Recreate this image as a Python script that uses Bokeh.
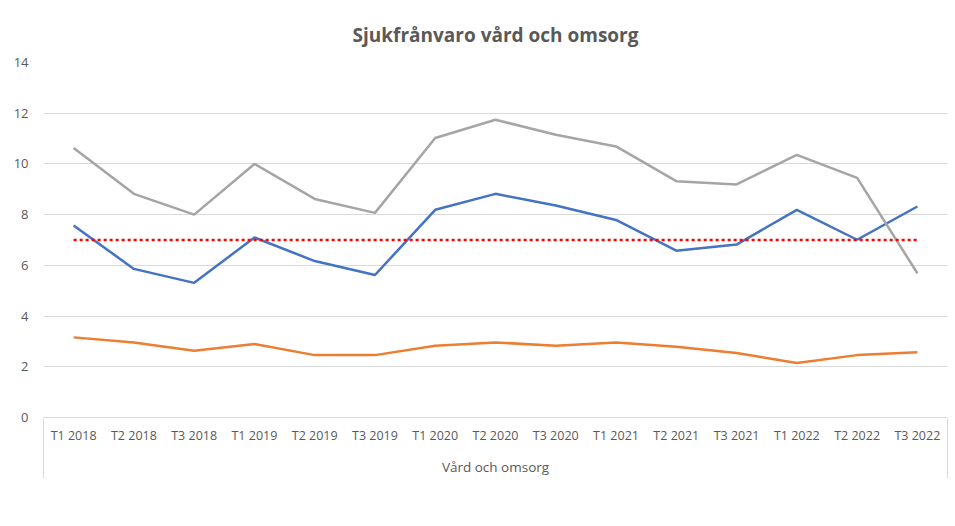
from bokeh.plotting import figure
from bokeh.models import (FactorRange, Range1d, ColumnDataSource, Legend, LegendItem,
                          LinearAxis, FixedTicker)
from bokeh.embed import file_html
from bokeh.resources import INLINE

categories = ["T1 2018", "T2 2018", "T3 2018", "T1 2019", "T2 2019", "T3 2019",
              "T1 2020", "T2 2020", "T3 2020", "T1 2021", "T2 2021", "T3 2021",
              "T1 2022", "T2 2022", "T3 2022"]
kort = [7.57, 5.86, 5.31, 7.10, 6.17, 5.62, 8.19, 8.82, 8.36, 7.79, 6.58, 6.82, 8.19, 7.01, 8.32]
lang = [3.16, 2.96, 2.63, 2.90, 2.46, 2.46, 2.83, 2.96, 2.83, 2.96, 2.79, 2.54, 2.15, 2.46, 2.57]
totalt = [10.63, 8.82, 8.00, 10.00, 8.62, 8.07, 11.02, 11.74, 11.15, 10.69, 9.32, 9.19, 10.36, 9.45, 5.69]
mal_totalt = [7.0] * 15
y_ticks = [0, 2, 4, 6, 8, 10, 12, 14]

TEXT = "#595959"
GRID = "#D9D9D9"
FONT = "Open Sans"

src = ColumnDataSource(dict(x=categories, kort=kort, lang=lang, totalt=totalt, mal=mal_totalt))

p = figure(frame_width=904, frame_height=355, x_range=FactorRange(*categories, range_padding=0),
           y_range=Range1d(0, 14), output_backend="svg", toolbar_location=None,
           min_border_left=43, min_border_right=2, min_border_top=62, min_border_bottom=0,
           title="Sjukfrånvaro vård och omsorg")
p.outline_line_color = None

p.title.align = "center"
p.title.vertical_align = "top"
p.title.text_font = FONT
p.title.text_font_size = "19px"
p.title.text_font_style = "bold"
p.title.text_color = TEXT
p.title.standoff = 26

r1 = p.line("x", "kort", source=src, line_color="#4472C4", line_width=2.5)
r2 = p.line("x", "lang", source=src, line_color="#ED7D31", line_width=2.5)
r3 = p.line("x", "totalt", source=src, line_color="#A5A5A5", line_width=2.5)
r4 = p.line("x", "mal", source=src, line_color="#FF0000", line_width=2.5, line_dash="3 3")

# axes
p.yaxis.ticker = FixedTicker(ticks=y_ticks)
p.yaxis.axis_line_color = None
p.yaxis.major_tick_line_color = None
p.yaxis.major_tick_out = 0
p.yaxis.major_tick_in = 0
p.yaxis.minor_tick_line_color = None
p.yaxis.major_label_standoff = 15
p.yaxis.major_label_text_font = FONT
p.yaxis.major_label_text_font_size = "13px"
p.yaxis.major_label_text_color = TEXT

p.xaxis.axis_line_color = GRID
p.xaxis.major_tick_line_color = None
p.xaxis.major_tick_out = 0
p.xaxis.major_tick_in = 0
p.xaxis.minor_tick_line_color = None
p.xaxis.major_label_standoff = 9
p.xaxis.major_label_text_font = FONT
p.xaxis.major_label_text_font_size = "12.5px"
p.xaxis.major_label_text_color = TEXT
p.xaxis.axis_label = "Vård och omsorg"
p.xaxis.axis_label_standoff = 11
p.xaxis.axis_label_text_font = FONT
p.xaxis.axis_label_text_font_size = "13.5px"
p.xaxis.axis_label_text_font_style = "normal"
p.xaxis.axis_label_text_color = TEXT

p.xgrid.grid_line_color = None
p.ygrid.grid_line_color = GRID
p.ygrid.grid_line_width = 1

# category box side lines: an axis below the category axis whose inward ticks
# sit at the two ends of the category span (synthetic coordinates 0 and n)
n_cat = len(categories)
box_axis = LinearAxis(ticker=FixedTicker(ticks=[0, n_cat]),
                      axis_line_color=None, major_tick_line_color=GRID,
                      major_tick_in=60, major_tick_out=0, minor_tick_line_color=None,
                      major_label_text_font_size="0px", major_label_standoff=0,
                      major_label_overrides={0: "", n_cat: ""})
p.add_layout(box_axis, "below")

legend = Legend(items=[LegendItem(label="Kort", renderers=[r1]),
                       LegendItem(label="Lång", renderers=[r2]),
                       LegendItem(label="Totalt", renderers=[r3]),
                       LegendItem(label="Mål totalt", renderers=[r4])],
                orientation="horizontal", location="top_center",
                glyph_width=45, glyph_height=14, label_height=14,
                label_standoff=5, spacing=22,
                label_text_font=FONT, label_text_font_size="13.5px", label_text_color=TEXT,
                border_line_color=None, background_fill_alpha=0, padding=0, margin=0)
p.add_layout(legend, "below")

open("out.html", "w").write(file_html(p, INLINE))
